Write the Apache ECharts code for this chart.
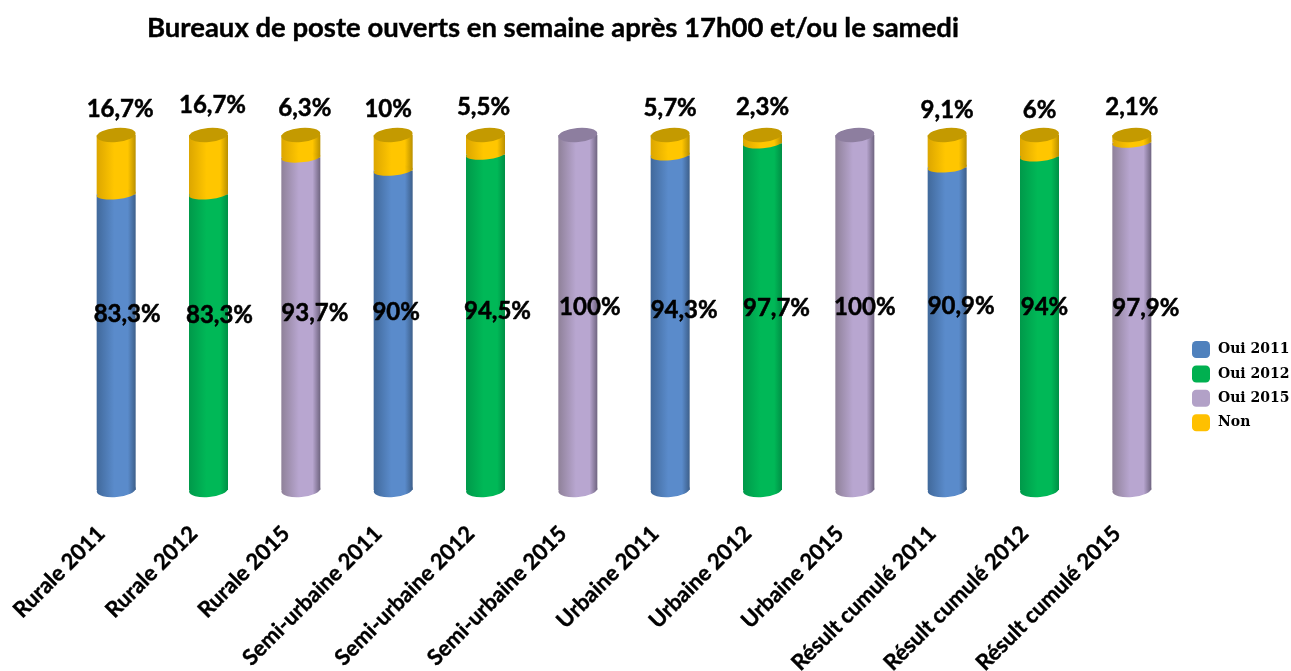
<!DOCTYPE html>
<html>
<head>
<meta charset="utf-8">
<title>Bureaux de poste</title>
<script src="https://cdn.jsdelivr.net/npm/echarts@6/dist/echarts.min.js"></script>
<style>
  html, body { margin: 0; padding: 0; background: #fff; }
  #chart { width: 1291px; height: 671px; }
</style>
</head>
<body>
<div id="chart"></div>
<script>
const titleText = 'Bureaux de poste ouverts en semaine après 17h00 et/ou le samedi';
const categories = ['Rurale 2011', 'Rurale 2012', 'Rurale 2015', 'Semi-urbaine 2011', 'Semi-urbaine 2012', 'Semi-urbaine 2015',
  'Urbaine 2011', 'Urbaine 2012', 'Urbaine 2015', 'Résult cumulé 2011', 'Résult cumulé 2012', 'Résult cumulé 2015'];
const oui2011 = [83.3, null, null, 90, null, null, 94.3, null, null, 90.9, null, null];
const oui2012 = [null, 83.3, null, null, 94.5, null, null, 97.7, null, null, 94, null];
const oui2015 = [null, null, 93.7, null, null, 100, null, null, 100, null, null, 97.9];
const non = [16.7, 16.7, 6.3, 10, 5.5, null, 5.7, 2.3, null, 9.1, 6, 2.1];

// label nudges, the source labels are not quite centred on the cylinders
const ouiLabelNudge = [[11, 2], [11, 3], [14, 1], [3, 0], [12, -1], [12, -5], [14, -2], [14, -4], [10, -5], [14, -6], [5, -5], [14, -4]];
const nonLabelNudge = [[4, -3], [4, -7], [4, -4], [-5, -3], [-2, -5], [0, 0], [0, -4], [0, -5], [0, 0], [0, -2], [0, -2], [0, -5]];

const font = 'Lato';
const barW = 39;
const tilt = 5;

function cyl(left, mid, right) {
  return new echarts.graphic.LinearGradient(0, 0, 1, 0, [
    {offset: 0, color: left},
    {offset: 0.45, color: mid},
    {offset: 0.8, color: mid},
    {offset: 1, color: right}
  ]);
}
const colBlue = cyl('#41699b', '#5a8bcb', '#3d5f8a');
const colGreen = cyl('#00994a', '#00b857', '#008f45');
const colPurple = cyl('#8f8199', '#b8a6d0', '#6f6480');
const colYellow = cyl('#dca600', '#ffc600', '#b98f00');

const ouiAll = categories.map((c, i) => oui2011[i] ?? oui2012[i] ?? oui2015[i]);
const fmt = v => String(v).replace('.', ',') + '%';

function barSeries(name, data, color) {
  return {name, type: 'bar', stack: 'total', barWidth: barW, data, z: 3, itemStyle: {color}};
}
function ellipse(name, data, z, h, colorFn) {
  return {
    name, type: 'pictorialBar', symbol: 'circle', symbolSize: [barW, h], symbolRotate: tilt,
    symbolPosition: 'end', symbolOffset: [0, '-50%'], barWidth: barW, barGap: '-100%', z,
    silent: true, data: data.map((v, i) => ({value: v, itemStyle: {color: colorFn(i)}}))
  };
}
const bodyColor = i => oui2011[i] != null ? colBlue : oui2012[i] != null ? colGreen : colPurple;
// thin stroke, Lato bold is a bit lighter than the source face
const labelStyle = {color: '#000', fontFamily: font, fontWeight: 'bold', fontSize: 24, textBorderColor: '#000', textBorderWidth: 0.5};

const chart = echarts.init(document.getElementById('chart'));
chart.setOption({
  animation: false,
  backgroundColor: '#fff',
  title: {
    text: titleText, left: 142, top: 9,
    textStyle: {fontFamily: font, fontWeight: 'bold', fontSize: 27.5, color: '#000', textBorderColor: '#000', textBorderWidth: 0.4}
  },
  legend: {
    orient: 'vertical', left: 1187, top: 336, itemWidth: 18, itemHeight: 17, itemGap: 7.4,
    icon: 'roundRect', selectedMode: false,
    textStyle: {fontFamily: 'DejaVu Serif', fontWeight: 'bold', fontSize: 14, color: '#000', padding: [0, 0, 0, 3]},
    data: [
      {name: 'Oui 2011', itemStyle: {color: '#4f81bd'}},
      {name: 'Oui 2012', itemStyle: {color: '#00b050'}},
      {name: 'Oui 2015', itemStyle: {color: '#b2a1c7'}},
      {name: 'Non', itemStyle: {color: '#ffc000'}}
    ]
  },
  grid: {left: 70, width: 1108, top: 135, height: 355, outerBoundsMode: 'none'},
  xAxis: {
    type: 'category', data: categories,
    axisLine: {show: false}, axisTick: {show: false},
    axisLabel: {
      interval: 0, rotate: 45, margin: 25, padding: [0, 21, 0, 0], color: '#000',
      fontFamily: font, fontWeight: 'bold', fontSize: 22, textBorderColor: '#000', textBorderWidth: 0.4
    }
  },
  yAxis: {type: 'value', min: 0, max: 100, show: false},
  series: [
    ellipse('base', categories.map(() => 0), 1, 14, bodyColor),
    barSeries('Oui 2011', oui2011, colBlue),
    barSeries('Oui 2012', oui2012, colGreen),
    barSeries('Oui 2015', oui2015, colPurple),
    barSeries('Non', non, colYellow),
    ellipse('joint', ouiAll.map((v, i) => non[i] == null ? null : v), 4, 10, () => colYellow),
    ellipse('cap', categories.map(() => 100), 5, 14, i => non[i] == null ? '#8d7e9f' : '#c49a00'),
    // the labels sit on hidden scatter points, one nudge per cylinder
    {
      name: 'labelsOui', type: 'scatter', symbolSize: 1, itemStyle: {color: 'transparent', opacity: 1}, z: 6, silent: true,
      data: ouiAll.map((v, i) => ({
        value: 50,
        label: Object.assign({show: true, position: 'inside', formatter: fmt(v), offset: ouiLabelNudge[i]}, labelStyle)
      }))
    },
    {
      name: 'labelsNon', type: 'scatter', symbolSize: 1, itemStyle: {color: 'transparent', opacity: 1}, z: 6, silent: true,
      data: non.map((v, i) => v == null ? null : ({
        value: 100,
        label: Object.assign({show: true, position: 'top', distance: 10, formatter: fmt(v), offset: nonLabelNudge[i]}, labelStyle)
      }))
    }
  ]
});
</script>
</body>
</html>
